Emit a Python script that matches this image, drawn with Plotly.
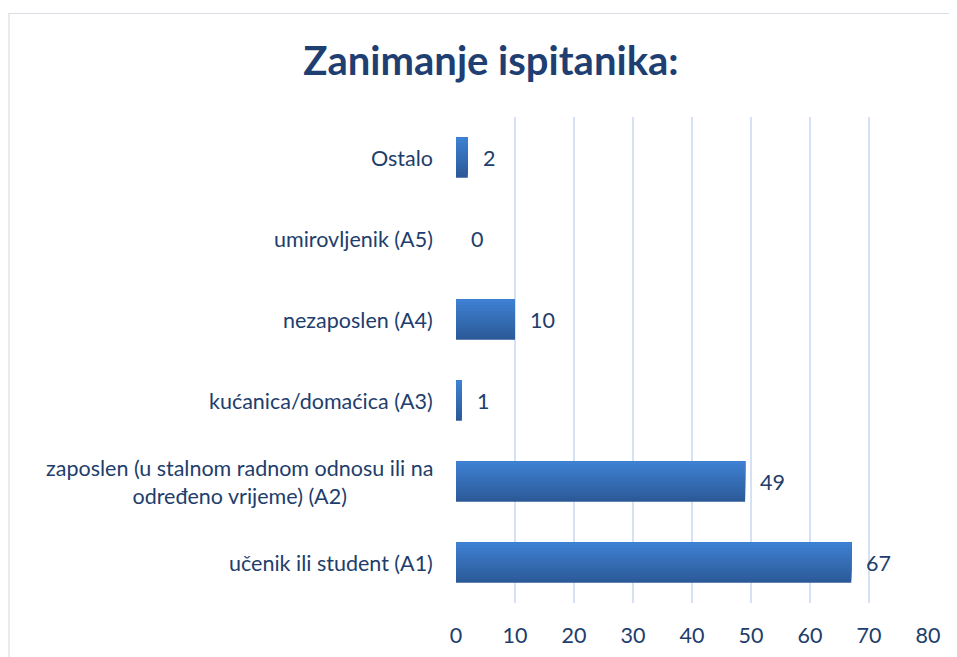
import plotly.graph_objects as go

# Data (bottom to top, as in the reference)
categories = [
    "učenik ili student (A1)",
    "zaposlen (u stalnom radnom odnosu ili na<br>određeno vrijeme) (A2)",
    "kućanica/domaćica (A3)",
    "nezaposlen (A4)",
    "umirovljenik (A5)",
    "Ostalo",
]
values = [67, 49, 1, 10, 0, 2]
x_ticks = [0, 10, 20, 30, 40, 50, 60, 70, 80]

TEXT = "#213D6B"
TITLE = "#1F3F73"
FONT = "Lato, Open Sans, sans-serif"
FS = 21.5

# page body margin compensation
OFF = 8

# gradient colours (bottom dark -> top light)
c_bottom = (0x2C, 0x5A, 0x98)
c_top = (0x3E, 0x80, 0xD2)
N = 14
bar_w = 0.5

fig = go.Figure()
for k in range(N):
    t = k / (N - 1)
    col = tuple(round(c_bottom[i] + (c_top[i] - c_bottom[i]) * t) for i in range(3))
    h = bar_w / N
    fig.add_trace(go.Bar(
        x=values, y=categories, orientation="h",
        width=bar_w - k * h, offset=-bar_w / 2 + k * h,
        marker=dict(color="rgb(%d,%d,%d)" % col, line=dict(width=0)),
        hoverinfo="skip", showlegend=False,
    ))

# value labels
for v, c in zip(values, categories):
    fig.add_annotation(x=v, y=c, xref="x", yref="y", text=str(v),
                       showarrow=False, xanchor="left", xshift=13,
                       font=dict(family=FONT, size=FS, color=TEXT))
# category labels (centered multi-line)
for c in categories:
    fig.add_annotation(x=0, y=c, xref="paper", yref="y", text=c,
                       showarrow=False, xanchor="right", xshift=-21, align="center",
                       font=dict(family=FONT, size=FS, color=TEXT))

# chart border (reference pixel positions): only top and left edges are in view
px0, px1 = 456, 928
py0, py1 = 117, 603
def xp(p): return (p - px0) / (px1 - px0)
def yp(p): return (py1 - p) / (py1 - py0)
fig.add_shape(type="path", xref="paper", yref="paper",
              path="M %f,%f L %f,%f L %f,%f" % (xp(9), yp(680), xp(9), yp(13.5), xp(1000), yp(13.5)),
              line=dict(color="#D9DEE6", width=1.2), layer="below")

W, H = 957, 657
fig.update_layout(
    width=W, height=H,
    margin=dict(l=px0 - OFF, r=W - px1 + OFF, t=py0 - OFF, b=H - py1 + OFF),
    paper_bgcolor="white", plot_bgcolor="white",
    barmode="overlay",
    title=dict(text="<b>Zanimanje ispitanika:</b>", x=(491 - OFF) / W, xanchor="center",
               y=1 - (61 - OFF) / H, yanchor="middle",
               font=dict(family=FONT, size=40, color=TITLE)),
    font=dict(family=FONT, size=FS, color=TEXT),
)
fig.update_xaxes(range=[0, 80], tickvals=x_ticks, showgrid=True, gridcolor="#D5E2F3",
                 gridwidth=1.5, zeroline=False, showline=False,
                 ticks="outside", ticklen=0, ticklabelstandoff=13,
                 tickfont=dict(family=FONT, size=FS, color=TEXT), fixedrange=True)
fig.update_yaxes(showticklabels=False, showgrid=False, zeroline=False, showline=False,
                 categoryorder="array", categoryarray=categories)
fig.write_html("out.html")
